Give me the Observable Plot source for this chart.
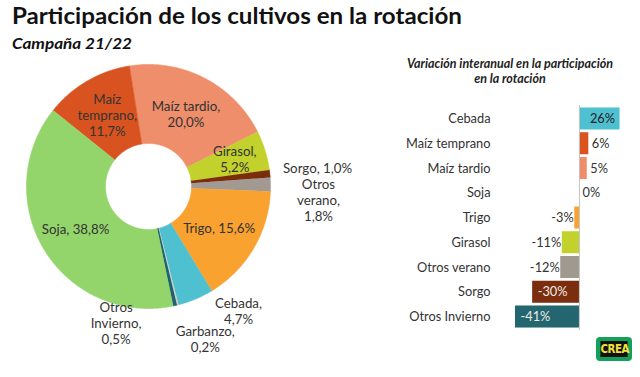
<!DOCTYPE html>
<html>
<head>
<meta charset="utf-8">
<script src="https://cdn.jsdelivr.net/npm/d3@7"></script>
<script src="https://cdn.jsdelivr.net/npm/@observablehq/plot@0.6"></script>
<style>
  html, body { margin: 0; padding: 0; background: #fff; }
  #root { position: relative; width: 640px; height: 377px; overflow: hidden; font-family: Lato, "Open Sans", sans-serif; color: #222; }
  .abs { position: absolute; white-space: nowrap; }
  #title { left: 12px; top: 4px; font-size: 23px; line-height: 23px; font-weight: 700; color: #111; transform-origin: 0 0; }
  #subtitle { left: 12px; top: 36px; font-size: 15.5px; line-height: 15px; font-weight: 700; font-style: italic; color: #111; transform-origin: 0 0; }
  #bartitle { left: 380px; width: 260px; top: 56px; font-size: 12.5px; line-height: 15px; font-weight: 700; font-style: italic; text-align: center; color: #222; }
  #pie { left: 0; top: 50px; }
  #bars { left: 390px; top: 95px; }
  #logo { left: 596px; top: 337px; width: 36px; height: 24px; background: #14a05a; border-radius: 4px; box-sizing: border-box; padding: 4px 2px; }
  #logo div { background: #111; height: 16px; color: #f3e13a; font: 900 12px/16px "DejaVu Sans", sans-serif; text-align: center; letter-spacing: -0.5px; transform: scaleX(0.85); }
</style>
</head>
<body>
<div id="root">
  <div id="title" class="abs">Participación de los cultivos en la rotación</div>
  <div id="subtitle" class="abs">Campaña 21/22</div>
  <div id="bartitle" class="abs">Variación interanual en la participación<br>en la rotación</div>
  <div id="pie" class="abs"></div>
  <div id="bars" class="abs"></div>
  <div id="logo" class="abs"><div>CREA</div></div>
</div>
<script>
// ---------- Data: donut (share of rotation, %) ----------
const cultivos = ["Maíz tardio", "Girasol", "Sorgo", "Otros verano", "Trigo", "Cebada", "Garbanzo", "Otros Invierno", "Soja", "Maíz temprano"];
const participacion = [20.0, 5.2, 1.0, 1.8, 15.6, 4.7, 0.2, 0.5, 38.8, 11.7];
const etiquetas = ["Maíz tardio,\n20,0%", "Girasol,\n5,2%", "Sorgo, 1,0%", "Otros\nverano,\n1,8%", "Trigo, 15,6%", "Cebada,\n4,7%", "Garbanzo,\n0,2%", "Otros\nInvierno,\n0,5%", "Soja, 38,8%", "Maíz\ntemprano,\n11,7%"];
const coloresCultivo = ["#EE8E6B", "#C2D12B", "#7B2C0A", "#A29A92", "#F9A22F", "#4FC0D0", "#D0CDC8", "#1E6470", "#93D46B", "#D95320"];

// ---------- Data: year-on-year change (%) ----------
const variacionCultivos = ["Cebada", "Maíz temprano", "Maíz tardio", "Soja", "Trigo", "Girasol", "Otros verano", "Sorgo", "Otros Invierno"];
const variacion = [26, 6, 5, 0, -3, -11, -12, -30, -41];
const coloresVariacion = ["#4FC0D0", "#D95320", "#EE8E6B", "#93D46B", "#F9A22F", "#C2D12B", "#A09990", "#7A2E0E", "#23666F"];

// ---------- Layout (not data) ----------
const R = 122, r0 = 43, startDeg = -9;
// label placement: radius along slice mid-angle plus nudge
const labelLayout = [
  {r: 82}, {r: 82, dx: 8, dy: -3}, {r: 170, dy: -1}, {r: 170, dy: 16}, {r: 82},
  {r: 150, dx: 32, dy: -14}, {r: 170, dx: 16, dy: -13}, {r: 140, dx: -63, dy: 0},
  {r: 82, dx: -3}, {r: 82, dy: -1}
];

// build slice polygons in pie units
const total = d3.sum(participacion);
let acc = startDeg * Math.PI / 180;
const slices = cultivos.map((name, i) => {
  const a0 = acc, a1 = acc + participacion[i] / total * 2 * Math.PI;
  acc = a1;
  const n = Math.max(2, Math.ceil((a1 - a0) / (Math.PI / 360)));
  const pts = [];
  for (let k = 0; k <= n; k++) { const a = a0 + (a1 - a0) * k / n; pts.push({x: R * Math.sin(a), y: -R * Math.cos(a)}); }
  for (let k = n; k >= 0; k--) { const a = a0 + (a1 - a0) * k / n; pts.push({x: r0 * Math.sin(a), y: -r0 * Math.cos(a)}); }
  const mid = (a0 + a1) / 2, L = labelLayout[i];
  return {name, color: coloresCultivo[i], pts,
    label: {text: etiquetas[i], x: L.r * Math.sin(mid) + (L.dx || 0), y: -L.r * Math.cos(mid) + (L.dy || 0)}};
});

const pie = Plot.plot({
  width: 380, height: 322,
  margin: 0,
  style: {background: "transparent", fontFamily: "Lato, sans-serif"},
  x: {domain: [-148, 232], range: [0, 380], axis: null},
  y: {domain: [-136, 186], range: [0, 322], axis: null},
  marks: [
    ...slices.map(s => Plot.line(s.pts, {x: "x", y: "y", fill: s.color, stroke: s.color, strokeWidth: 0.6, curve: "linear"})),
    Plot.text(slices.map(s => s.label), {x: "x", y: "y", text: "text", fontSize: 13.3, lineHeight: 1.2, fill: "#333"})
  ]
});
document.getElementById("pie").appendChild(pie);

// bar chart
const barsData = variacionCultivos.map((name, i) => ({name, v: variacion[i], color: coloresVariacion[i]}));
const fmt = d => d.v + "%";
const bars = Plot.plot({
  width: 250, height: 240,
  marginLeft: 105, marginRight: 15, marginTop: 10, marginBottom: 5,
  style: {background: "transparent", fontFamily: "Lato, sans-serif", fontSize: "12.8px", color: "#333"},
  x: {domain: [-53.8, 29.5], axis: null},
  y: {type: "band", domain: variacionCultivos, paddingInner: 0.11, paddingOuter: 0.1, round: false, label: null, tickSize: 0, tickPadding: 5},
  color: {type: "identity"},
  marks: [
    Plot.barX(barsData, {x: "v", y: "name", fill: "color"}),
    Plot.ruleX([0], {stroke: "#c4c4c4", strokeWidth: 1}),
    Plot.text(barsData.filter(d => d.v >= 20), {x: "v", y: "name", text: fmt, textAnchor: "end", dx: -5, fill: "#222", fontSize: 12.8}),
    Plot.text(barsData.filter(d => d.v >= 0 && d.v < 20), {x: "v", y: "name", text: fmt, textAnchor: "start", dx: 3, fill: "#333", fontSize: 12.8}),
    Plot.text(barsData.filter(d => d.v < 0 && d.v > -20), {x: "v", y: "name", text: fmt, textAnchor: "end", dx: -1, fill: "#333", fontSize: 12.8}),
    Plot.text(barsData.filter(d => d.v <= -20), {x: "v", y: "name", text: fmt, textAnchor: "start", dx: 5, fill: "#f2ece8", fontSize: 12.8})
  ]
});
document.getElementById("bars").appendChild(bars);

// fit text widths to reference
function fit(id, target) {
  const el = document.getElementById(id);
  const w = el.getBoundingClientRect().width;
  if (w > 0) el.style.transform = `scaleX(${target / w})`;
}
fit("title", 450);
fit("subtitle", 120);
</script>
</body>
</html>
